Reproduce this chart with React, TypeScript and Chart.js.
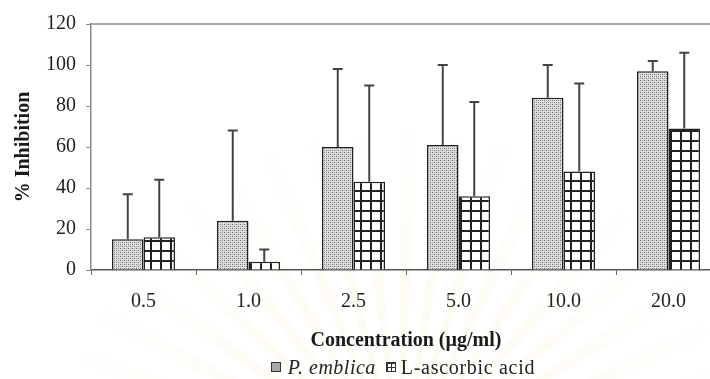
import React, { useEffect, useRef } from "react";
import { Chart, registerables } from "chart.js";

Chart.register(...registerables);

const categories = ["0.5", "1.0", "2.5", "5.0", "10.0", "20.0"];
const emblicaValues = [15, 24, 60, 61, 84, 97];
const emblicaErrors = [22, 44, 38, 39, 16, 5];
const ascorbicValues = [16, 4, 43, 36, 48, 69];
const ascorbicErrors = [28, 6, 47, 46, 43, 37];
const yTickValues = [0, 20, 40, 60, 80, 100, 120];
const seriesNames = ["P. emblica", "L-ascorbic acid"];

const FONT = "'Liberation Serif', 'Times New Roman', serif";

function makeEmblicaPattern(ctx: CanvasRenderingContext2D) {
  const c = document.createElement("canvas");
  c.width = 4;
  c.height = 4;
  const g = c.getContext("2d")!;
  g.fillStyle = "#dcdcdc";
  g.fillRect(0, 0, 4, 4);
  g.fillStyle = "#747474";
  g.fillRect(0, 0, 1, 1);
  g.fillRect(2, 2, 1, 1);
  g.fillStyle = "#a6a6a6";
  g.fillRect(2, 0, 1, 1);
  g.fillRect(0, 2, 1, 1);
  return ctx.createPattern(c, "repeat")!;
}

function makeGridPattern(ctx: CanvasRenderingContext2D) {
  const c = document.createElement("canvas");
  c.width = 10;
  c.height = 10;
  const g = c.getContext("2d")!;
  g.fillStyle = "#ffffff";
  g.fillRect(0, 0, 10, 10);
  g.fillStyle = "#222222";
  g.fillRect(0, 0, 2, 10);
  g.fillRect(0, 0, 10, 2);
  return ctx.createPattern(c, "repeat")!;
}

const errorBarPlugin = {
  id: "errorBars",
  afterDatasetsDraw(chart: any) {
    const ctx = chart.ctx;
    const yScale = chart.scales.y;
    const errs = [emblicaErrors, ascorbicErrors];
    ctx.save();
    ctx.strokeStyle = "#444";
    ctx.lineWidth = 2;
    chart.data.datasets.forEach((ds: any, di: number) => {
      const meta = chart.getDatasetMeta(di);
      meta.data.forEach((bar: any, i: number) => {
        const v = ds.data[i] as number;
        const top = yScale.getPixelForValue(v + errs[di][i]);
        const base = yScale.getPixelForValue(v);
        ctx.beginPath();
        ctx.moveTo(bar.x, base);
        ctx.lineTo(bar.x, top);
        ctx.moveTo(bar.x - 5, top);
        ctx.lineTo(bar.x + 5, top);
        ctx.stroke();
      });
    });
    ctx.restore();
  },
};

const topBorderPlugin = {
  id: "topBorder",
  afterDraw(chart: any) {
    const { ctx, chartArea } = chart;
    ctx.save();
    ctx.strokeStyle = "#a8a8a8";
    ctx.lineWidth = 2;
    ctx.beginPath();
    ctx.moveTo(chartArea.left, chartArea.top);
    ctx.lineTo(chartArea.right, chartArea.top);
    ctx.stroke();
    ctx.restore();
  },
};

export default function App() {
  const canvasRef = useRef<HTMLCanvasElement | null>(null);

  useEffect(() => {
    const canvas = canvasRef.current!;
    const ctx = canvas.getContext("2d")!;
    const chart = new Chart(ctx, {
      type: "bar",
      data: {
        labels: categories,
        datasets: [
          {
            label: seriesNames[0],
            data: emblicaValues,
            backgroundColor: makeEmblicaPattern(ctx),
            borderColor: "#222",
            borderWidth: 1.5,
            categoryPercentage: 0.6,
            barPercentage: 1,
          },
          {
            label: seriesNames[1],
            data: ascorbicValues,
            backgroundColor: makeGridPattern(ctx),
            borderColor: "#222",
            borderWidth: 1.5,
            categoryPercentage: 0.6,
            barPercentage: 1,
          },
        ],
      },
      options: {
        animation: false,
        responsive: false,
        maintainAspectRatio: false,
        layout: { padding: { left: 0, right: 1, top: 24, bottom: 26 } },
        plugins: {
          legend: { display: false },
          tooltip: { enabled: false },
        },
        scales: {
          x: {
            afterFit: (s: any) => {
              s.height = 83;
            },
            grid: {
              display: true,
              drawOnChartArea: false,
              tickLength: 5,
              offset: true,
              color: "#666",
            },
            border: { display: true, color: "#555", width: 1.5 },
            ticks: {
              font: { family: FONT, size: 20 },
              color: "#222",
              padding: 15,
            },
            title: {
              display: true,
              text: "Concentration (µg/ml)",
              font: { family: FONT, size: 20, weight: "bold" },
              color: "#1a1a1a",
              padding: { top: 0, bottom: 0 },
            },
          },
          y: {
            min: 0,
            max: 120,
            afterFit: (s: any) => {
              s.width = 91;
            },
            afterBuildTicks: (s: any) => {
              s.ticks = yTickValues.map((v) => ({ value: v }));
            },
            grid: {
              display: true,
              drawOnChartArea: false,
              tickLength: 5,
              color: "#888",
            },
            border: { display: true, color: "#888", width: 1.5 },
            ticks: {
              font: { family: FONT, size: 20 },
              color: "#222",
              padding: 10,
            },
            title: {
              display: true,
              text: "% Inhibition",
              font: { family: FONT, size: 20, weight: "bold" },
              color: "#1a1a1a",
              padding: { top: 12, bottom: 0 },
            },
          },
        },
      },
      plugins: [errorBarPlugin, topBorderPlugin],
    });
    return () => chart.destroy();
  }, []);

  const iconBase: React.CSSProperties = {
    display: "inline-block",
    width: 8,
    height: 8,
    border: "1.5px solid #333",
    marginRight: 7,
    verticalAlign: "middle",
    position: "relative",
    top: -2,
  };

  return (
    <div
      style={{
        position: "fixed",
        left: 0,
        top: 0,
        width: 710,
        height: 379,
        overflow: "hidden",
        background: "#ffffff",
      }}
    >
      <div
        style={{
          position: "absolute",
          left: 0,
          top: 0,
          width: 760,
          height: 379,
          background:
            "repeating-conic-gradient(from 0deg at 400px 470px, rgba(248,236,198,0.5) 0deg 3deg, rgba(255,255,255,0) 3deg 8deg)",
          WebkitMaskImage:
            "radial-gradient(circle at 400px 470px, rgba(0,0,0,0.55) 0px, rgba(0,0,0,0.35) 200px, rgba(0,0,0,0) 340px)",
          maskImage:
            "radial-gradient(circle at 400px 470px, rgba(0,0,0,0.55) 0px, rgba(0,0,0,0.35) 200px, rgba(0,0,0,0) 340px)",
        }}
      />
      <div style={{ position: "absolute", left: 0, top: 0, width: 722, height: 379 }}>
        <canvas ref={canvasRef} width={722} height={379} style={{ width: 722, height: 379 }} />
      </div>
      <div
        style={{
          position: "absolute",
          left: 0,
          width: 806,
          top: 355,
          textAlign: "center",
          fontFamily: FONT,
          fontSize: 20,
          lineHeight: "24px",
          color: "#222",
          whiteSpace: "nowrap",
        }}
      >
        <span
          style={{
            ...iconBase,
            backgroundColor: "#d0d0d0",
            backgroundImage:
              "radial-gradient(circle, #777 0.6px, transparent 0.8px)",
            backgroundSize: "2px 2px",
          }}
        />
        <span style={{ fontStyle: "italic", letterSpacing: 0.5 }}>{seriesNames[0]}</span>
        <span style={{ display: "inline-block", width: 10 }} />
        <span
          style={{
            ...iconBase,
            marginRight: 5,
            backgroundColor: "#fff",
            backgroundImage:
              "linear-gradient(#333 1.5px, transparent 1.5px), linear-gradient(90deg, #333 1.5px, transparent 1.5px)",
            backgroundSize: "4px 4px",
          }}
        />
        <span style={{ letterSpacing: 0.7 }}>{seriesNames[1]}</span>
      </div>
    </div>
  );
}
